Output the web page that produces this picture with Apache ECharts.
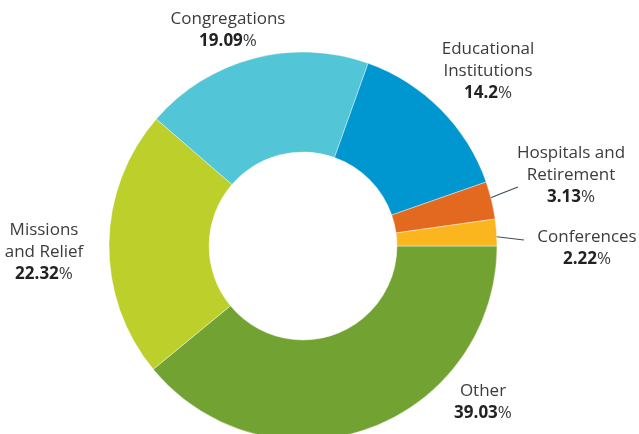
<!DOCTYPE html>
<html>
<head>
<meta charset="utf-8">
<script src="https://cdn.jsdelivr.net/npm/echarts@6/dist/echarts.min.js"></script>
<style>html,body{margin:0;padding:0;background:#fff}#c{width:639px;height:434px}</style>
</head>
<body>
<div id="c"></div>
<script>
const categories = ['Other', 'Missions\nand Relief', 'Congregations', 'Educational\nInstitutions', 'Hospitals and\nRetirement', 'Conferences'];
const values = [39.03, 22.32, 19.09, 14.2, 3.13, 2.22];
const colors = ['#72a332', '#bccf2a', '#52c5d6', '#0096d0', '#e2691f', '#fbb51e'];
const withLine = ['Hospitals and\nRetirement', 'Conferences'];

// label placement (center x, top y) and leader lines
const labelPos = [
  {x: 483, y: 380},
  {x: 44, y: 219},
  {x: 228, y: 8},
  {x: 488, y: 38},
  {x: 571, y: 142},
  {x: 587, y: 226}
];
const leaderLines = {
  4: [[483, 201], [500, 194], [518, 187]],
  5: [[482, 235], [503, 237.5], [524, 240]]
};

const data = categories.map((n, i) => ({
  name: n,
  value: values[i],
  itemStyle: {color: colors[i]},
  labelLine: {show: withLine.indexOf(n) >= 0}
}));

const chart = echarts.init(document.getElementById('c'), null, {renderer: 'canvas'});
chart.setOption({
  animation: false,
  series: [{
    type: 'pie',
    center: [303, 246],
    radius: [94, 194],
    startAngle: 0,
    clockwise: true,
    data: data,
    itemStyle: {borderColor: '#ffffff', borderWidth: 0.4},
    label: {
      show: true,
      position: 'outside',
      overflow: 'none',
      width: 200,
      fontFamily: 'Open Sans',
      formatter: function (p) {
        const lines = p.name.split('\n').map(s => '{n|' + s + '}').join('\n');
        return lines + '\n{b|' + p.value + '}{p|%}';
      },
      rich: {
        n: {fontFamily: 'Open Sans', fontSize: 17, color: '#3c3c3c', lineHeight: 22},
        b: {fontFamily: 'Open Sans', fontSize: 17, fontWeight: 'bold', color: '#222', lineHeight: 22},
        p: {fontFamily: 'Open Sans', fontSize: 17, color: '#3c3c3c', lineHeight: 22}
      },
      align: 'center'
    },
    labelLine: {lineStyle: {color: '#3d4f5c', width: 1.2}},
    labelLayout: function (params) {
      const i = params.dataIndex;
      const res = {x: labelPos[i].x, y: labelPos[i].y, align: 'center', verticalAlign: 'top'};
      if (leaderLines[i]) res.labelLinePoints = leaderLines[i];
      return res;
    }
  }]
});
</script>
</body>
</html>
